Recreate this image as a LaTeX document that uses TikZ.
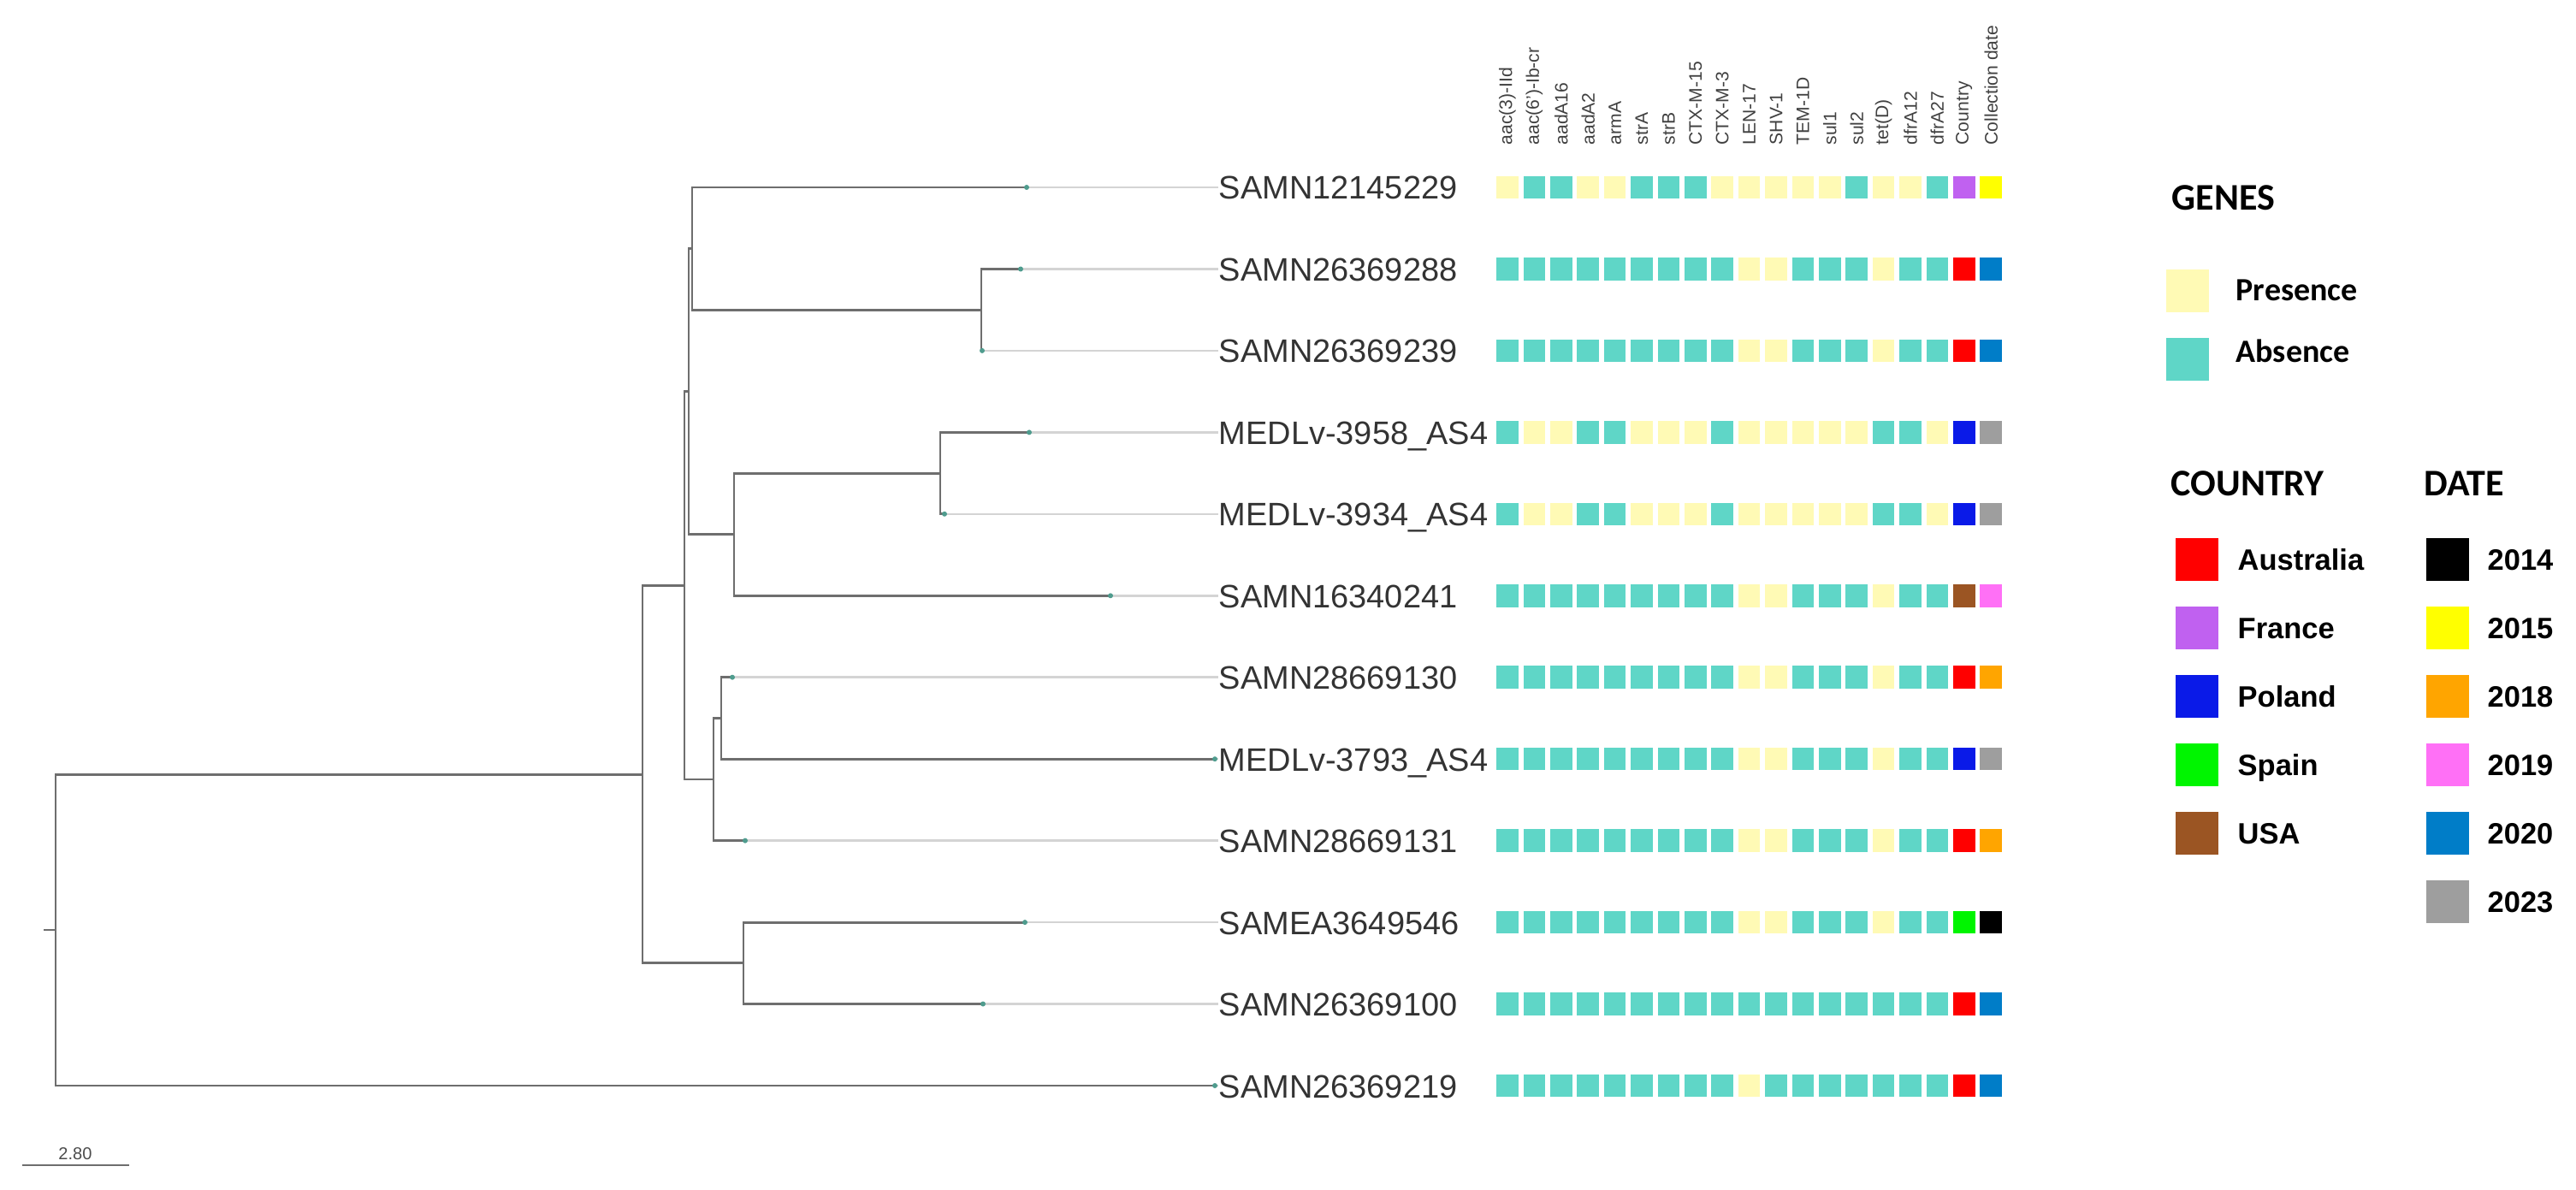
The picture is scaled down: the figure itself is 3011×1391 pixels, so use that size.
\documentclass[tikz,border=0pt]{standalone}
\usepackage{fontspec}
\setmainfont{Liberation Sans}
\newfontfamily\keyfont{Carlito}

\definecolor{cellA}{HTML}{5FD6C7}
\definecolor{cellP}{HTML}{FFFAB5}
\definecolor{branch}{HTML}{6E6E6E}
\definecolor{twig}{HTML}{D4D4D4}
\definecolor{tipdot}{HTML}{4F9C8E}
\definecolor{AUS}{HTML}{FF0000}
\definecolor{FRA}{HTML}{C061F0}
\definecolor{POL}{HTML}{0A1AE8}
\definecolor{ESP}{HTML}{00F500}
\definecolor{USA}{HTML}{9B5523}
\definecolor{y2014}{HTML}{000000}
\definecolor{y2015}{HTML}{FFFF00}
\definecolor{y2018}{HTML}{FFA500}
\definecolor{y2019}{HTML}{FF70F6}
\definecolor{y2020}{HTML}{007DC8}
\definecolor{y2023}{HTML}{9E9E9E}

\newcommand\colx[1]{1762+(#1-1)*31.4}

\tikzset{
  tree/.style={draw=branch, line width=0.8pt},
  twigline/.style={draw=twig, line width=0.7pt},
  tipmark/.style={circle, fill=tipdot, inner sep=0pt, minimum size=0.06cm},
  leaf/.style={anchor=base west, inner sep=0pt, text=black!80, font=\fontsize{10.8}{12}\selectfont},
  gene/.style={rotate=90, anchor=west, inner sep=0pt, text=black!75, font=\fontsize{6}{7}\selectfont},
  cell/.style={inner sep=0pt, minimum width=0.255cm, minimum height=0.265cm},
  keybox/.style={inner sep=0pt, minimum size=0.5cm},
  keyhead/.style={anchor=west, inner sep=0pt, font=\keyfont\bfseries\fontsize{12.5}{14}\selectfont},
  keygene/.style={anchor=base west, inner sep=0pt, font=\keyfont\bfseries\fontsize{10.8}{12}\selectfont},
  keyitem/.style={anchor=base west, inner sep=0pt, font=\bfseries\fontsize{9.8}{11}\selectfont},
}

\begin{document}
\begin{tikzpicture}[x=0.01cm, y=-0.01cm]
  \useasboundingbox (0,0) rectangle (3011,1391);

  % leaves
  \foreach \i/\y/\tx/\name in {1/219/1200/SAMN12145229, 2/314.5/1193/SAMN26369288,
      3/409.9/1148/SAMN26369239, 4/505.4/1203/MEDLv-3958\_AS4,
      5/600.8/1104/MEDLv-3934\_AS4, 6/696.3/1298/SAMN16340241,
      7/791.7/856/SAMN28669130, 8/887.2/1420/MEDLv-3793\_AS4,
      9/982.6/871/SAMN28669131, 10/1078.1/1198/SAMEA3649546,
      11/1173.5/1149/SAMN26369100, 12/1269/1420/SAMN26369219} {
    \coordinate (t\i) at (\tx,\y);
    \node[leaf] (s\i) at (1424,\y+14) {\name};
    \draw[twigline] (t\i) -- (t\i -| s\i.west);
  }

  % inner nodes
  \coordinate (root) at (65,1087);
  \coordinate (nG) at (751,905.1);
  \coordinate (nE) at (800,684.4);
  \coordinate (nJ) at (869,1125.8);
  \coordinate (nC) at (805,457.7);
  \coordinate (nH) at (834,911);
  \coordinate (nA) at (809,290.6);
  \coordinate (nD) at (858,624.7);
  \coordinate (nB) at (1147,362.2);
  \coordinate (nF) at (1099,553.1);
  \coordinate (nI) at (843,839.5);
  \coordinate (stub) at (51,1087);

  \draw[tree] (stub) -- (root);
  \foreach \p/\c in {root/nG, root/t12, nG/nE, nG/nJ, nE/nC, nE/nH,
      nC/nA, nC/nD, nA/t1, nA/nB, nB/t2, nB/t3, nD/nF, nD/t6,
      nF/t4, nF/t5, nH/nI, nH/t9, nI/t7, nI/t8, nJ/t10, nJ/t11} {
    \draw[tree] (\p) |- (\c);
  }
  \foreach \i in {1,...,12} {
    \node[tipmark] (d\i) at (t\i) {};
  }

  % column heads
  \foreach \g [count=\c] in {aac(3)-IId, aac(6')-Ib-cr, aadA16, aadA2, armA, strA, strB,
      CTX-M-15, CTX-M-3, LEN-17, SHV-1, TEM-1D, sul1, sul2, tet(D), dfrA12, dfrA27,
      Country, Collection date} {
    \node[gene] (h\c) at ({\colx{\c}},170) {\g};
  }

  % presence / absence cells
  \foreach \r/\y/\genes/\ctry/\yr in {
      1/219/{P,A,A,P,P,A,A,A,P,P,P,P,P,A,P,P,A}/FRA/y2015,
      2/314.5/{A,A,A,A,A,A,A,A,A,P,P,A,A,A,P,A,A}/AUS/y2020,
      3/409.9/{A,A,A,A,A,A,A,A,A,P,P,A,A,A,P,A,A}/AUS/y2020,
      4/505.4/{A,P,P,A,A,P,P,P,A,P,P,P,P,P,A,A,P}/POL/y2023,
      5/600.8/{A,P,P,A,A,P,P,P,A,P,P,P,P,P,A,A,P}/POL/y2023,
      6/696.3/{A,A,A,A,A,A,A,A,A,P,P,A,A,A,P,A,A}/USA/y2019,
      7/791.7/{A,A,A,A,A,A,A,A,A,P,P,A,A,A,P,A,A}/AUS/y2018,
      8/887.2/{A,A,A,A,A,A,A,A,A,P,P,A,A,A,P,A,A}/POL/y2023,
      9/982.6/{A,A,A,A,A,A,A,A,A,P,P,A,A,A,P,A,A}/AUS/y2018,
      10/1078.1/{A,A,A,A,A,A,A,A,A,P,P,A,A,A,P,A,A}/ESP/y2014,
      11/1173.5/{A,A,A,A,A,A,A,A,A,A,A,A,A,A,A,A,A}/AUS/y2020,
      12/1269/{A,A,A,A,A,A,A,A,A,P,A,A,A,A,A,A,A}/AUS/y2020} {
    \foreach \g [count=\c] in \genes {
      \node[cell, fill=cell\g] (c\r-\c) at ({\colx{\c}},\y) {};
    }
    \node[cell, fill=\ctry] (c\r-18) at ({\colx{18}},\y) {};
    \node[cell, fill=\yr] (c\r-19) at ({\colx{19}},\y) {};
  }

  % legend
  \node[keyhead] (genesKey) at (2538,231) {GENES};
  \node[keybox, fill=cellP] (kP) at (2557,340) {};
  \node[keygene] (tP) at (2613,352) {Presence};
  \node[keybox, fill=cellA] (kA) at (2557,420) {};
  \node[keygene] (tA) at (2613,423) {Absence};

  \node[keyhead] (ctryKey) at (2537,565) {COUNTRY};
  \node[keyhead] (dateKey) at (2833,565) {DATE};
  \foreach \k/\lab [count=\i] in {AUS/Australia, FRA/France, POL/Poland, ESP/Spain, USA/USA} {
    \node[keybox, fill=\k] (k\k) at (2568,574+80*\i) {};
    \node[keyitem] (l\k) at (2615,586+80*\i) {\lab};
  }
  \foreach \yr [count=\i] in {2014,2015,2018,2019,2020,2023} {
    \node[keybox, fill=y\yr] (ky\yr) at (2860.5,574+80*\i) {};
    \node[keyitem] (ly\yr) at (2907,586+80*\i) {\yr};
  }

  % scale bar
  \coordinate (barL) at (26,1362);
  \coordinate (barR) at (151,1362);
  \draw[tree] (barL) -- (barR);
  \node[inner sep=0pt, text=black!70, font=\fontsize{5.7}{6}\selectfont] (barT) at (88,1349) {2.80};
\end{tikzpicture}
\end{document}
